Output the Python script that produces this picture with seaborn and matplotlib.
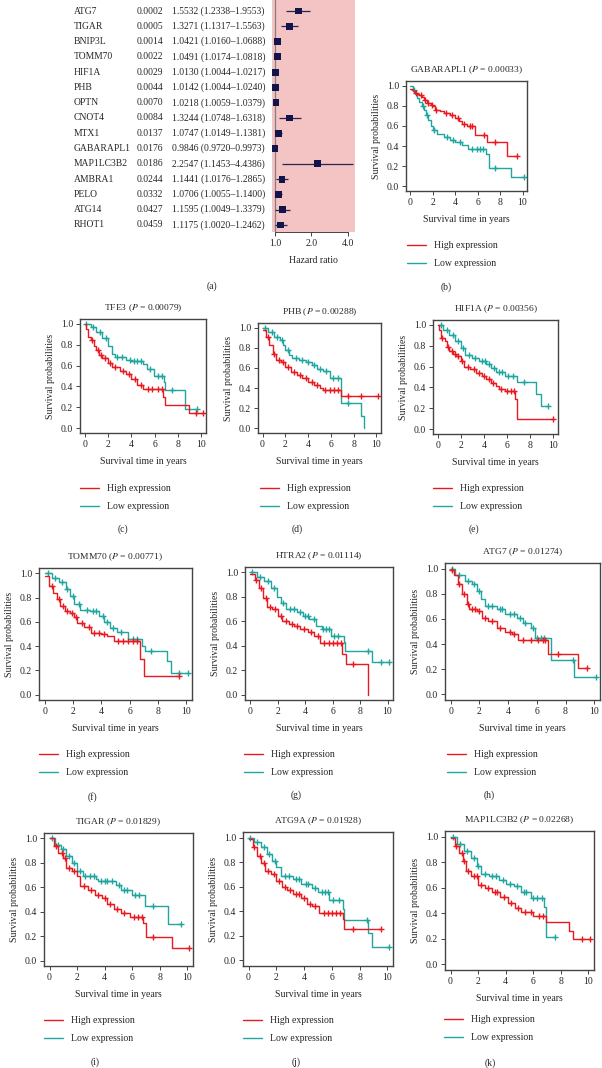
import matplotlib
matplotlib.use('Agg')  # no display
import numpy as np
import matplotlib.pyplot as plt
import seaborn as sns
from matplotlib.lines import Line2D
from matplotlib.ticker import NullLocator
from matplotlib.transforms import blended_transform_factory

# ======================
# 1. DATA
# ======================
# forest plot (a)
genes = ["ATG7", "TIGAR", "BNIP3L", "TOMM70", "HIF1A", "PHB", "OPTN", "CNOT4", "MTX1",
         "GABARAPL1", "MAP1LC3B2", "AMBRA1", "PELO", "ATG14", "RHOT1"]
pvals = ["0.0002", "0.0005", "0.0014", "0.0022", "0.0029", "0.0044", "0.0070", "0.0084",
         "0.0137", "0.0176", "0.0186", "0.0244", "0.0332", "0.0427", "0.0459"]
hr = [1.5532, 1.3271, 1.0421, 1.0491, 1.0130, 1.0142, 1.0218, 1.3244, 1.0747, 0.9846,
      2.2547, 1.1441, 1.0706, 1.1595, 1.1175]
hr_lo = [1.2338, 1.1317, 1.0160, 1.0174, 1.0044, 1.0044, 1.0059, 1.0748, 1.0149, 0.9720,
         1.1453, 1.0176, 1.0055, 1.0049, 1.0020]
hr_hi = [1.9553, 1.5563, 1.0688, 1.0818, 1.0217, 1.0240, 1.0379, 1.6318, 1.1381, 0.9973,
         4.4386, 1.2865, 1.1400, 1.3379, 1.2462]
hr_ticks = [1.0, 2.0, 4.0]

# KM curves: step times (t), survival after each step (s), censor times (c)
gab_hi_t = [0, 0.2, 0.4, 0.6, 0.8, 1.0, 1.2, 1.5, 1.8, 2.0, 2.2, 2.6, 3.0, 3.5, 4.0, 4.3, 4.6, 5.0, 5.8, 6.8, 8.6, 9.5]
gab_hi_s = [0.97, 0.95, 0.93, 0.92, 0.91, 0.89, 0.86, 0.83, 0.81, 0.80, 0.76, 0.75, 0.73, 0.71, 0.68, 0.65, 0.62, 0.60, 0.51, 0.44, 0.30, 0.30]
gab_hi_c = [0.5, 0.9, 1.3, 1.6, 1.9, 2.3, 3.2, 3.7, 4.2, 4.8, 5.3, 5.5, 6.6, 7.5, 9.5]
gab_lo_t = [0, 0.2, 0.4, 0.6, 0.8, 1.0, 1.2, 1.4, 1.6, 1.8, 2.0, 2.4, 3.0, 3.5, 4.0, 4.6, 5.1, 6.7, 7.0, 9.0, 10.1]
gab_lo_s = [1.0, 0.96, 0.92, 0.88, 0.84, 0.80, 0.76, 0.71, 0.66, 0.60, 0.56, 0.52, 0.49, 0.46, 0.44, 0.41, 0.37, 0.32, 0.18, 0.09, 0.09]
gab_lo_c = [0.3, 1.1, 1.5, 2.1, 3.3, 3.8, 4.4, 5.5, 5.9, 6.2, 6.5, 7.5, 10.1]

tfe_hi_t = [0, 0.15, 0.3, 0.5, 0.8, 1.0, 1.2, 1.5, 2.0, 2.3, 3.0, 3.5, 4.0, 4.5, 5.0, 6.75, 6.9, 8.9, 10.1]
tfe_hi_s = [1.0, 0.95, 0.87, 0.84, 0.79, 0.75, 0.70, 0.67, 0.62, 0.59, 0.55, 0.52, 0.47, 0.41, 0.38, 0.30, 0.22, 0.15, 0.15]
tfe_hi_c = [0.6, 1.1, 1.4, 1.7, 2.2, 2.6, 3.3, 3.8, 4.3, 4.8, 5.4, 5.8, 6.3, 6.6, 9.5, 10.1]
tfe_lo_t = [0, 0.5, 1.0, 1.5, 2.0, 2.3, 2.6, 3.5, 4.0, 5.0, 5.3, 5.9, 6.8, 6.9, 8.6, 9.6]
tfe_lo_s = [1.0, 0.97, 0.92, 0.86, 0.79, 0.71, 0.68, 0.65, 0.64, 0.61, 0.57, 0.50, 0.44, 0.37, 0.18, 0.18]
tfe_lo_c = [0.1, 0.7, 1.3, 1.8, 2.8, 3.2, 3.9, 4.2, 4.5, 4.8, 5.6, 6.3, 6.6, 7.5, 9.6]

phb_hi_t = [0, 0.3, 0.6, 0.9, 1.2, 1.6, 2.0, 2.5, 3.0, 3.5, 4.0, 4.5, 5.0, 5.3, 6.9, 10.1]
phb_hi_s = [0.98, 0.91, 0.83, 0.74, 0.68, 0.66, 0.61, 0.56, 0.53, 0.50, 0.46, 0.43, 0.40, 0.38, 0.32, 0.32]
phb_hi_c = [0.5, 1.0, 1.4, 1.8, 2.2, 2.8, 3.3, 3.8, 4.3, 4.8, 5.5, 5.9, 6.3, 6.6, 7.5, 8.6, 10.1]
phb_lo_t = [0, 0.5, 1.0, 1.5, 1.8, 2.0, 2.3, 2.6, 3.2, 3.8, 4.3, 4.8, 5.3, 5.9, 6.9, 8.6, 8.9]
phb_lo_s = [1.0, 0.96, 0.91, 0.88, 0.83, 0.78, 0.73, 0.70, 0.68, 0.66, 0.63, 0.59, 0.57, 0.50, 0.25, 0.12, 0.0]
phb_lo_c = [0.2, 0.8, 1.3, 1.7, 2.2, 2.9, 3.5, 4.0, 4.5, 5.0, 5.6, 6.2, 6.6, 7.5]

hif_hi_t = [0, 0.15, 0.3, 0.6, 0.8, 1.0, 1.3, 1.6, 2.0, 2.3, 2.8, 3.3, 3.8, 4.2, 4.6, 5.0, 5.3, 5.8, 6.7, 6.9, 10.0]
hif_hi_s = [1.0, 0.95, 0.87, 0.84, 0.79, 0.75, 0.72, 0.70, 0.65, 0.60, 0.58, 0.54, 0.51, 0.48, 0.44, 0.41, 0.39, 0.37, 0.29, 0.10, 0.10]
hif_hi_c = [0.4, 0.9, 1.2, 1.5, 1.8, 2.1, 2.6, 3.1, 3.6, 4.0, 4.4, 4.8, 5.5, 6.0, 6.3, 6.6, 10.0]
hif_lo_t = [0, 0.5, 1.0, 1.5, 2.0, 2.4, 3.0, 3.6, 4.2, 4.6, 5.0, 5.8, 6.9, 8.5, 8.9, 9.5]
hif_lo_s = [1.0, 0.95, 0.90, 0.84, 0.78, 0.71, 0.68, 0.65, 0.62, 0.59, 0.55, 0.51, 0.45, 0.34, 0.22, 0.22]
hif_lo_c = [0.3, 0.8, 1.3, 1.8, 2.2, 2.7, 3.2, 3.8, 4.1, 4.4, 4.9, 5.3, 5.6, 6.1, 6.5, 7.5, 9.5]

tom_hi_t = [0, 0.3, 0.6, 0.9, 1.1, 1.4, 1.8, 2.1, 2.3, 2.8, 3.3, 4.0, 4.4, 4.9, 6.7, 7.0, 9.5]
tom_hi_s = [0.98, 0.90, 0.84, 0.79, 0.73, 0.69, 0.67, 0.64, 0.59, 0.56, 0.51, 0.50, 0.48, 0.44, 0.29, 0.15, 0.15]
tom_hi_c = [0.5, 1.0, 1.3, 1.6, 1.9, 2.2, 2.6, 3.1, 3.5, 3.8, 4.2, 5.2, 5.5, 5.9, 6.2, 6.5, 9.5]
tom_lo_t = [0, 0.5, 1.0, 1.5, 1.8, 2.1, 2.5, 3.2, 3.8, 4.2, 4.6, 5.1, 5.9, 6.9, 7.1, 8.6, 8.9, 10.1]
tom_lo_s = [1.0, 0.96, 0.93, 0.87, 0.81, 0.75, 0.70, 0.69, 0.65, 0.60, 0.55, 0.52, 0.46, 0.40, 0.36, 0.28, 0.18, 0.18]
tom_lo_c = [0.2, 0.7, 1.2, 1.6, 2.0, 2.4, 3.0, 3.4, 3.6, 4.1, 4.4, 4.8, 5.4, 6.2, 6.5, 7.5, 9.5, 10.1]

htr_hi_t = [0, 0.3, 0.6, 0.9, 1.2, 1.6, 2.0, 2.3, 2.8, 3.2, 3.6, 4.2, 4.6, 5.1, 6.7, 7.0, 8.6]
htr_hi_s = [0.99, 0.94, 0.87, 0.79, 0.72, 0.70, 0.64, 0.60, 0.58, 0.56, 0.54, 0.51, 0.48, 0.42, 0.33, 0.25, 0.0]
htr_hi_c = [0.4, 0.8, 1.1, 1.4, 1.8, 2.2, 2.6, 3.0, 3.4, 3.9, 4.4, 4.9, 5.4, 5.7, 6.0, 6.3, 6.6, 7.5]
htr_lo_t = [0, 0.5, 1.0, 1.5, 1.9, 2.2, 2.6, 3.4, 3.8, 4.3, 4.8, 5.2, 5.9, 6.8, 6.9, 8.9, 10.1]
htr_lo_s = [1.0, 0.96, 0.93, 0.87, 0.80, 0.75, 0.70, 0.68, 0.64, 0.62, 0.56, 0.54, 0.48, 0.43, 0.36, 0.27, 0.27]
htr_lo_c = [0.1, 0.7, 1.3, 1.7, 2.4, 2.9, 3.2, 3.6, 4.0, 4.2, 4.6, 5.3, 5.5, 5.7, 6.1, 6.4, 8.6, 9.5, 10.1]

atg7_hi_t = [0, 0.2, 0.5, 0.8, 1.1, 1.3, 1.8, 2.2, 2.6, 3.2, 3.8, 4.3, 4.7, 6.8, 8.9, 9.5]
atg7_hi_s = [0.99, 0.95, 0.88, 0.80, 0.72, 0.68, 0.66, 0.61, 0.58, 0.53, 0.50, 0.48, 0.43, 0.32, 0.21, 0.21]
atg7_hi_c = [0.1, 0.6, 0.9, 1.2, 1.5, 1.7, 2.0, 2.4, 2.9, 3.4, 4.1, 4.4, 5.0, 5.6, 6.1, 6.4, 6.6, 7.5, 9.5]
atg7_lo_t = [0, 0.3, 1.0, 1.5, 1.8, 2.1, 2.4, 3.2, 3.8, 4.6, 5.0, 5.6, 5.9, 7.0, 8.6, 10.1]
atg7_lo_s = [1.0, 0.95, 0.90, 0.88, 0.82, 0.76, 0.70, 0.68, 0.64, 0.61, 0.57, 0.53, 0.45, 0.27, 0.14, 0.14]
atg7_lo_c = [0.1, 0.6, 1.2, 1.6, 2.0, 2.6, 2.9, 3.4, 3.6, 4.1, 4.4, 4.8, 5.2, 5.7, 6.0, 6.3, 6.5, 8.5, 10.1]

tig_hi_t = [0, 0.3, 0.6, 1.0, 1.2, 1.6, 2.0, 2.2, 2.8, 3.3, 3.8, 4.2, 4.7, 5.2, 5.8, 6.8, 7.0, 8.9, 10.1]
tig_hi_s = [1.0, 0.94, 0.88, 0.84, 0.76, 0.73, 0.69, 0.61, 0.58, 0.54, 0.51, 0.46, 0.42, 0.39, 0.36, 0.31, 0.19, 0.10, 0.10]
tig_hi_c = [0.5, 0.9, 1.1, 1.4, 1.8, 2.5, 3.0, 3.5, 4.0, 4.4, 4.9, 5.4, 6.1, 6.4, 6.7, 7.5, 10.1]
tig_lo_t = [0, 0.4, 0.8, 1.2, 1.6, 2.0, 2.4, 3.4, 3.5, 4.8, 5.2, 6.0, 6.9, 8.6, 9.5]
tig_lo_s = [1.0, 0.95, 0.91, 0.86, 0.80, 0.73, 0.69, 0.67, 0.65, 0.62, 0.58, 0.54, 0.45, 0.30, 0.30]
tig_lo_c = [0.2, 0.6, 1.0, 1.4, 1.8, 2.2, 2.6, 2.9, 3.2, 3.7, 4.0, 4.2, 4.5, 5.0, 5.4, 5.6, 6.2, 6.5, 7.5, 9.5]

atg9_hi_t = [0, 0.3, 0.6, 0.9, 1.2, 1.6, 2.0, 2.4, 2.8, 3.2, 3.8, 4.2, 4.6, 5.1, 6.8, 6.9, 9.5]
atg9_hi_s = [0.99, 0.92, 0.85, 0.79, 0.73, 0.70, 0.65, 0.60, 0.57, 0.54, 0.51, 0.46, 0.44, 0.39, 0.34, 0.26, 0.26]
atg9_hi_c = [0.4, 0.8, 1.1, 1.4, 1.8, 2.2, 2.6, 3.0, 3.4, 3.6, 4.0, 4.4, 4.8, 5.4, 5.7, 6.0, 6.3, 6.6, 7.5, 9.5]
atg9_lo_t = [0, 0.4, 0.9, 1.3, 1.7, 2.0, 2.3, 3.2, 3.8, 4.6, 5.0, 5.8, 6.8, 6.9, 8.6, 8.9, 10.1]
atg9_lo_s = [1.0, 0.96, 0.92, 0.87, 0.81, 0.76, 0.69, 0.66, 0.62, 0.59, 0.56, 0.49, 0.42, 0.33, 0.22, 0.11, 0.11]
atg9_lo_c = [0.1, 0.6, 1.1, 1.5, 1.9, 2.6, 2.9, 3.4, 3.6, 4.1, 4.3, 4.8, 5.3, 5.5, 5.7, 6.1, 6.5, 8.5, 10.1]

map_hi_t = [0, 0.3, 0.6, 0.9, 1.1, 1.5, 2.0, 2.5, 3.0, 3.6, 4.2, 4.7, 5.1, 6.0, 6.9, 8.6, 8.9, 10.1]
map_hi_s = [0.99, 0.93, 0.87, 0.81, 0.73, 0.69, 0.62, 0.60, 0.57, 0.53, 0.48, 0.44, 0.41, 0.38, 0.33, 0.26, 0.20, 0.20]
map_hi_c = [0.4, 0.8, 1.0, 1.3, 1.7, 1.9, 2.2, 2.7, 3.2, 3.4, 3.9, 4.4, 4.9, 5.4, 5.8, 6.4, 6.7, 9.5, 10.1]
map_lo_t = [0, 0.5, 1.0, 1.5, 1.9, 2.2, 2.8, 3.5, 4.0, 4.6, 5.1, 5.8, 6.8, 6.95, 7.6]
map_lo_s = [1.0, 0.94, 0.89, 0.83, 0.77, 0.71, 0.69, 0.66, 0.63, 0.61, 0.57, 0.52, 0.45, 0.21, 0.21]
map_lo_c = [0.2, 0.7, 1.2, 1.7, 2.0, 2.5, 3.0, 3.3, 3.8, 4.3, 4.8, 5.3, 5.5, 6.0, 6.3, 6.6, 7.6]

km_genes = ["GABARAPL1", "TFE3", "PHB", "HIF1A", "TOMM70", "HTRA2", "ATG7", "TIGAR", "ATG9A", "MAP1LC3B2"]
km_pvals = ["0.00033", "0.00079", "0.00288", "0.00356", "0.00771", "0.01114", "0.01274", "0.01829", "0.01928", "0.02268"]
km_letters = ["(b)", "(c)", "(d)", "(e)", "(f)", "(g)", "(h)", "(i)", "(j)", "(k)"]
km_curves = [
    (gab_hi_t, gab_hi_s, gab_hi_c, gab_lo_t, gab_lo_s, gab_lo_c),
    (tfe_hi_t, tfe_hi_s, tfe_hi_c, tfe_lo_t, tfe_lo_s, tfe_lo_c),
    (phb_hi_t, phb_hi_s, phb_hi_c, phb_lo_t, phb_lo_s, phb_lo_c),
    (hif_hi_t, hif_hi_s, hif_hi_c, hif_lo_t, hif_lo_s, hif_lo_c),
    (tom_hi_t, tom_hi_s, tom_hi_c, tom_lo_t, tom_lo_s, tom_lo_c),
    (htr_hi_t, htr_hi_s, htr_hi_c, htr_lo_t, htr_lo_s, htr_lo_c),
    (atg7_hi_t, atg7_hi_s, atg7_hi_c, atg7_lo_t, atg7_lo_s, atg7_lo_c),
    (tig_hi_t, tig_hi_s, tig_hi_c, tig_lo_t, tig_lo_s, tig_lo_c),
    (atg9_hi_t, atg9_hi_s, atg9_hi_c, atg9_lo_t, atg9_lo_s, atg9_lo_c),
    (map_hi_t, map_hi_s, map_hi_c, map_lo_t, map_lo_s, map_lo_c),
]

# ======================
# 2. LAYOUT (pixels)
# ======================
W, H = 602, 1068
# axes boxes: left, top, right, bottom
km_boxes = [(406, 81, 527, 191), (80, 319, 206, 433), (258, 323, 381, 433), (433, 320, 558, 434),
            (39, 568, 192, 700), (245, 567, 393, 700), (445, 563, 600, 700),
            (44, 833, 193, 966), (243, 832, 393, 966), (445, 831, 594, 970)]
legend_pos = [(407, 248), (80, 491), (260, 491), (433, 491), (39, 757), (244, 757), (447, 757),
              (44, 1023), (243, 1023), (444, 1022)]
letter_pos = [(446, 287), (123, 529), (297, 529), (474, 529), (92, 797), (296, 795), (489, 795),
              (95, 1062), (296, 1062), (490, 1063)]

RED = "#E8191F"
TEAL = "#1FA6A0"
SPINE = "#444444"

sns.set_style("ticks")
plt.rcParams['font.family'] = ['Liberation Serif', 'DejaVu Serif']
plt.rcParams['mathtext.fontset'] = 'stix'
plt.rcParams['font.size'] = 7

fig = plt.figure(figsize=(W / 100, H / 100), dpi=100)


def px_axes(l, t, r, b):
    return fig.add_axes([l / W, 1 - b / H, (r - l) / W, (b - t) / H])


# ======================
# 3. FOREST PLOT (a)
# ======================
ax = px_axes(272, 0, 355, 232)
rows = np.arange(len(genes))
ax.set_facecolor("#F4C3C3")
ax.set_xscale("log")
ax.axvline(1.0, color="#808080", lw=0.9, zorder=1)
ax.hlines(rows, hr_lo, hr_hi, color="#262650", lw=0.9, zorder=2)
sns.scatterplot(x=hr, y=rows, marker="s", s=24, color="#14144c", edgecolor="none", ax=ax, zorder=3)
ax.set_xlim(0.946, 4.57)
ax.set_ylim(14.46, -0.72)
ax.set_xticks(hr_ticks)
ax.set_xticklabels([f"{v:.1f}" for v in hr_ticks], fontsize=7)
ax.xaxis.set_minor_locator(NullLocator())
ax.set_yticks([])
for sp in ["top", "left", "right"]:
    ax.spines[sp].set_visible(False)
ax.spines["bottom"].set_bounds(1.0, 4.0)
ax.spines["bottom"].set_color(SPINE)
ax.spines["bottom"].set_linewidth(0.7)
ax.tick_params(axis="x", length=3, width=0.7, color=SPINE, pad=2)
ax.set_xlabel("Hazard ratio", fontsize=7, labelpad=6)

tr = blended_transform_factory(fig.transFigure, ax.transData)
for i, g in enumerate(genes):
    ax.text(74 / W, i, g, transform=tr, ha="left", va="center", fontsize=6.9)
    ax.text(137 / W, i, pvals[i], transform=tr, ha="left", va="center", fontsize=6.9)
    ax.text(172 / W, i, f"{hr[i]:.4f} ({hr_lo[i]:.4f}\u2013{hr_hi[i]:.4f})", transform=tr,
            ha="left", va="center", fontsize=6.9)
fig.text(212 / W, 1 - 286 / H, "(a)", ha="center", va="center", fontsize=7)


# ======================
# 4. KAPLAN-MEIER PANELS (b)-(k)
# ======================
def km_curve(ax, t, s, c, color):
    sns.lineplot(x=t, y=s, drawstyle="steps-post", estimator=None, sort=False,
                 color=color, lw=1.0, ax=ax)
    t = np.asarray(t)
    s = np.asarray(s)
    cy = s[np.searchsorted(t, c, side="right") - 1]
    ax.plot(c, cy, "+", color=color, ms=4, mew=1.0)


for k in range(len(km_genes)):
    ax = px_axes(*km_boxes[k])
    hi_t, hi_s, hi_c, lo_t, lo_s, lo_c = km_curves[k]
    km_curve(ax, lo_t, lo_s, lo_c, TEAL)
    km_curve(ax, hi_t, hi_s, hi_c, RED)
    ax.set_xlim(-0.4, 10.4)
    ax.set_ylim(-0.045, 1.045)
    ax.set_xticks([0, 2, 4, 6, 8, 10])
    ax.set_yticks([0.0, 0.2, 0.4, 0.6, 0.8, 1.0])
    ax.set_yticklabels([f"{v:.1f}" for v in [0.0, 0.2, 0.4, 0.6, 0.8, 1.0]])
    ax.tick_params(labelsize=7, length=3, width=0.7, color=SPINE, pad=2)
    for sp in ax.spines.values():
        sp.set_color(SPINE)
        sp.set_linewidth(1.0)
    ax.set_title(f"{km_genes[k]} ($P$ = {km_pvals[k]})", fontsize=6.8, pad=6)
    ax.set_xlabel("Survival time in years", fontsize=7, labelpad=6)
    ax.set_ylabel("Survival probabilities", fontsize=7, labelpad=4)

    handles = [Line2D([], [], color=RED, lw=1.0), Line2D([], [], color=TEAL, lw=1.0)]
    lx, ly = legend_pos[k]
    ax.legend(handles, ["High expression", "Low expression"], loc="upper left",
              bbox_to_anchor=(lx / W, 1 - (ly - 7) / H), bbox_transform=fig.transFigure,
              frameon=False, borderpad=0, borderaxespad=0, handlelength=2.0,
              handletextpad=0.8, labelspacing=0.95, fontsize=7)
    px, py = letter_pos[k]
    fig.text(px / W, 1 - py / H, km_letters[k], ha="center", va="center", fontsize=7)

fig.savefig("out.png", dpi=100)
plt.close()
